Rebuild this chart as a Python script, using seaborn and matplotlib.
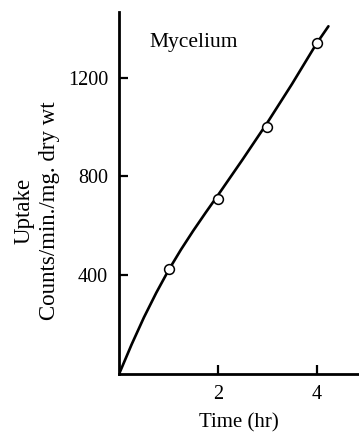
import matplotlib
matplotlib.use("Agg")
import matplotlib.pyplot as plt
import seaborn as sns
import pandas as pd

# Measured uptake of label by mycelium
time_hr = [1, 2, 3, 4]
uptake = [424, 709, 1000, 1341]

# Smooth curve drawn through the measurements
curve_time = [0, 0.25, 0.5, 0.75, 1.0, 1.25, 1.5, 1.75, 2.0, 2.5, 3.0,
              3.5, 4.0, 4.24]
curve_uptake = [0, 118, 228, 328, 420, 503, 580, 653, 724, 869, 1018,
                1175, 1340, 1410]

x_ticks = [2, 4]
y_ticks = [400, 800, 1200]

sns.set_style("ticks")
plt.rcParams["font.family"] = ["Liberation Serif", "DejaVu Serif"]
plt.rcParams["text.color"] = "black"
plt.rcParams["axes.labelcolor"] = "black"

pts = pd.DataFrame({"time": time_hr, "uptake": uptake})
crv = pd.DataFrame({"time": curve_time, "uptake": curve_uptake})

fig = plt.figure(figsize=(3.59, 4.33), dpi=100)
ax = fig.add_axes([0.3323, 0.1374, 0.6677, 0.8349])

sns.lineplot(data=crv, x="time", y="uptake", ax=ax, color="black",
             linewidth=1.9, sort=True)
sns.scatterplot(data=pts, x="time", y="uptake", ax=ax, marker="o", s=50,
                facecolor="white", edgecolor="black", linewidth=1.1, zorder=3)

ax.set_xlim(0, 4.86)
ax.set_ylim(0, 1468)
ax.set_xticks(x_ticks)
ax.set_yticks(y_ticks)
ax.tick_params(direction="in", length=6.5, width=1.6, labelsize=14.5,
               colors="black", pad=8)

for side in ("top", "right"):
    ax.spines[side].set_visible(False)
for side in ("left", "bottom"):
    ax.spines[side].set_linewidth(2.0)
    ax.spines[side].set_color("black")

ax.set_xlabel("Time (hr)", fontsize=15, labelpad=7)
ax.set_ylabel("Uptake\nCounts/min./mg. dry wt", fontsize=16.5,
              linespacing=1.3, multialignment="center")
ax.yaxis.set_label_coords(-0.246, 0.45)

ax.text(0.62, 1346, "Mycelium", fontsize=15.5, ha="left", va="center")

fig.savefig("out.png", dpi=100)
